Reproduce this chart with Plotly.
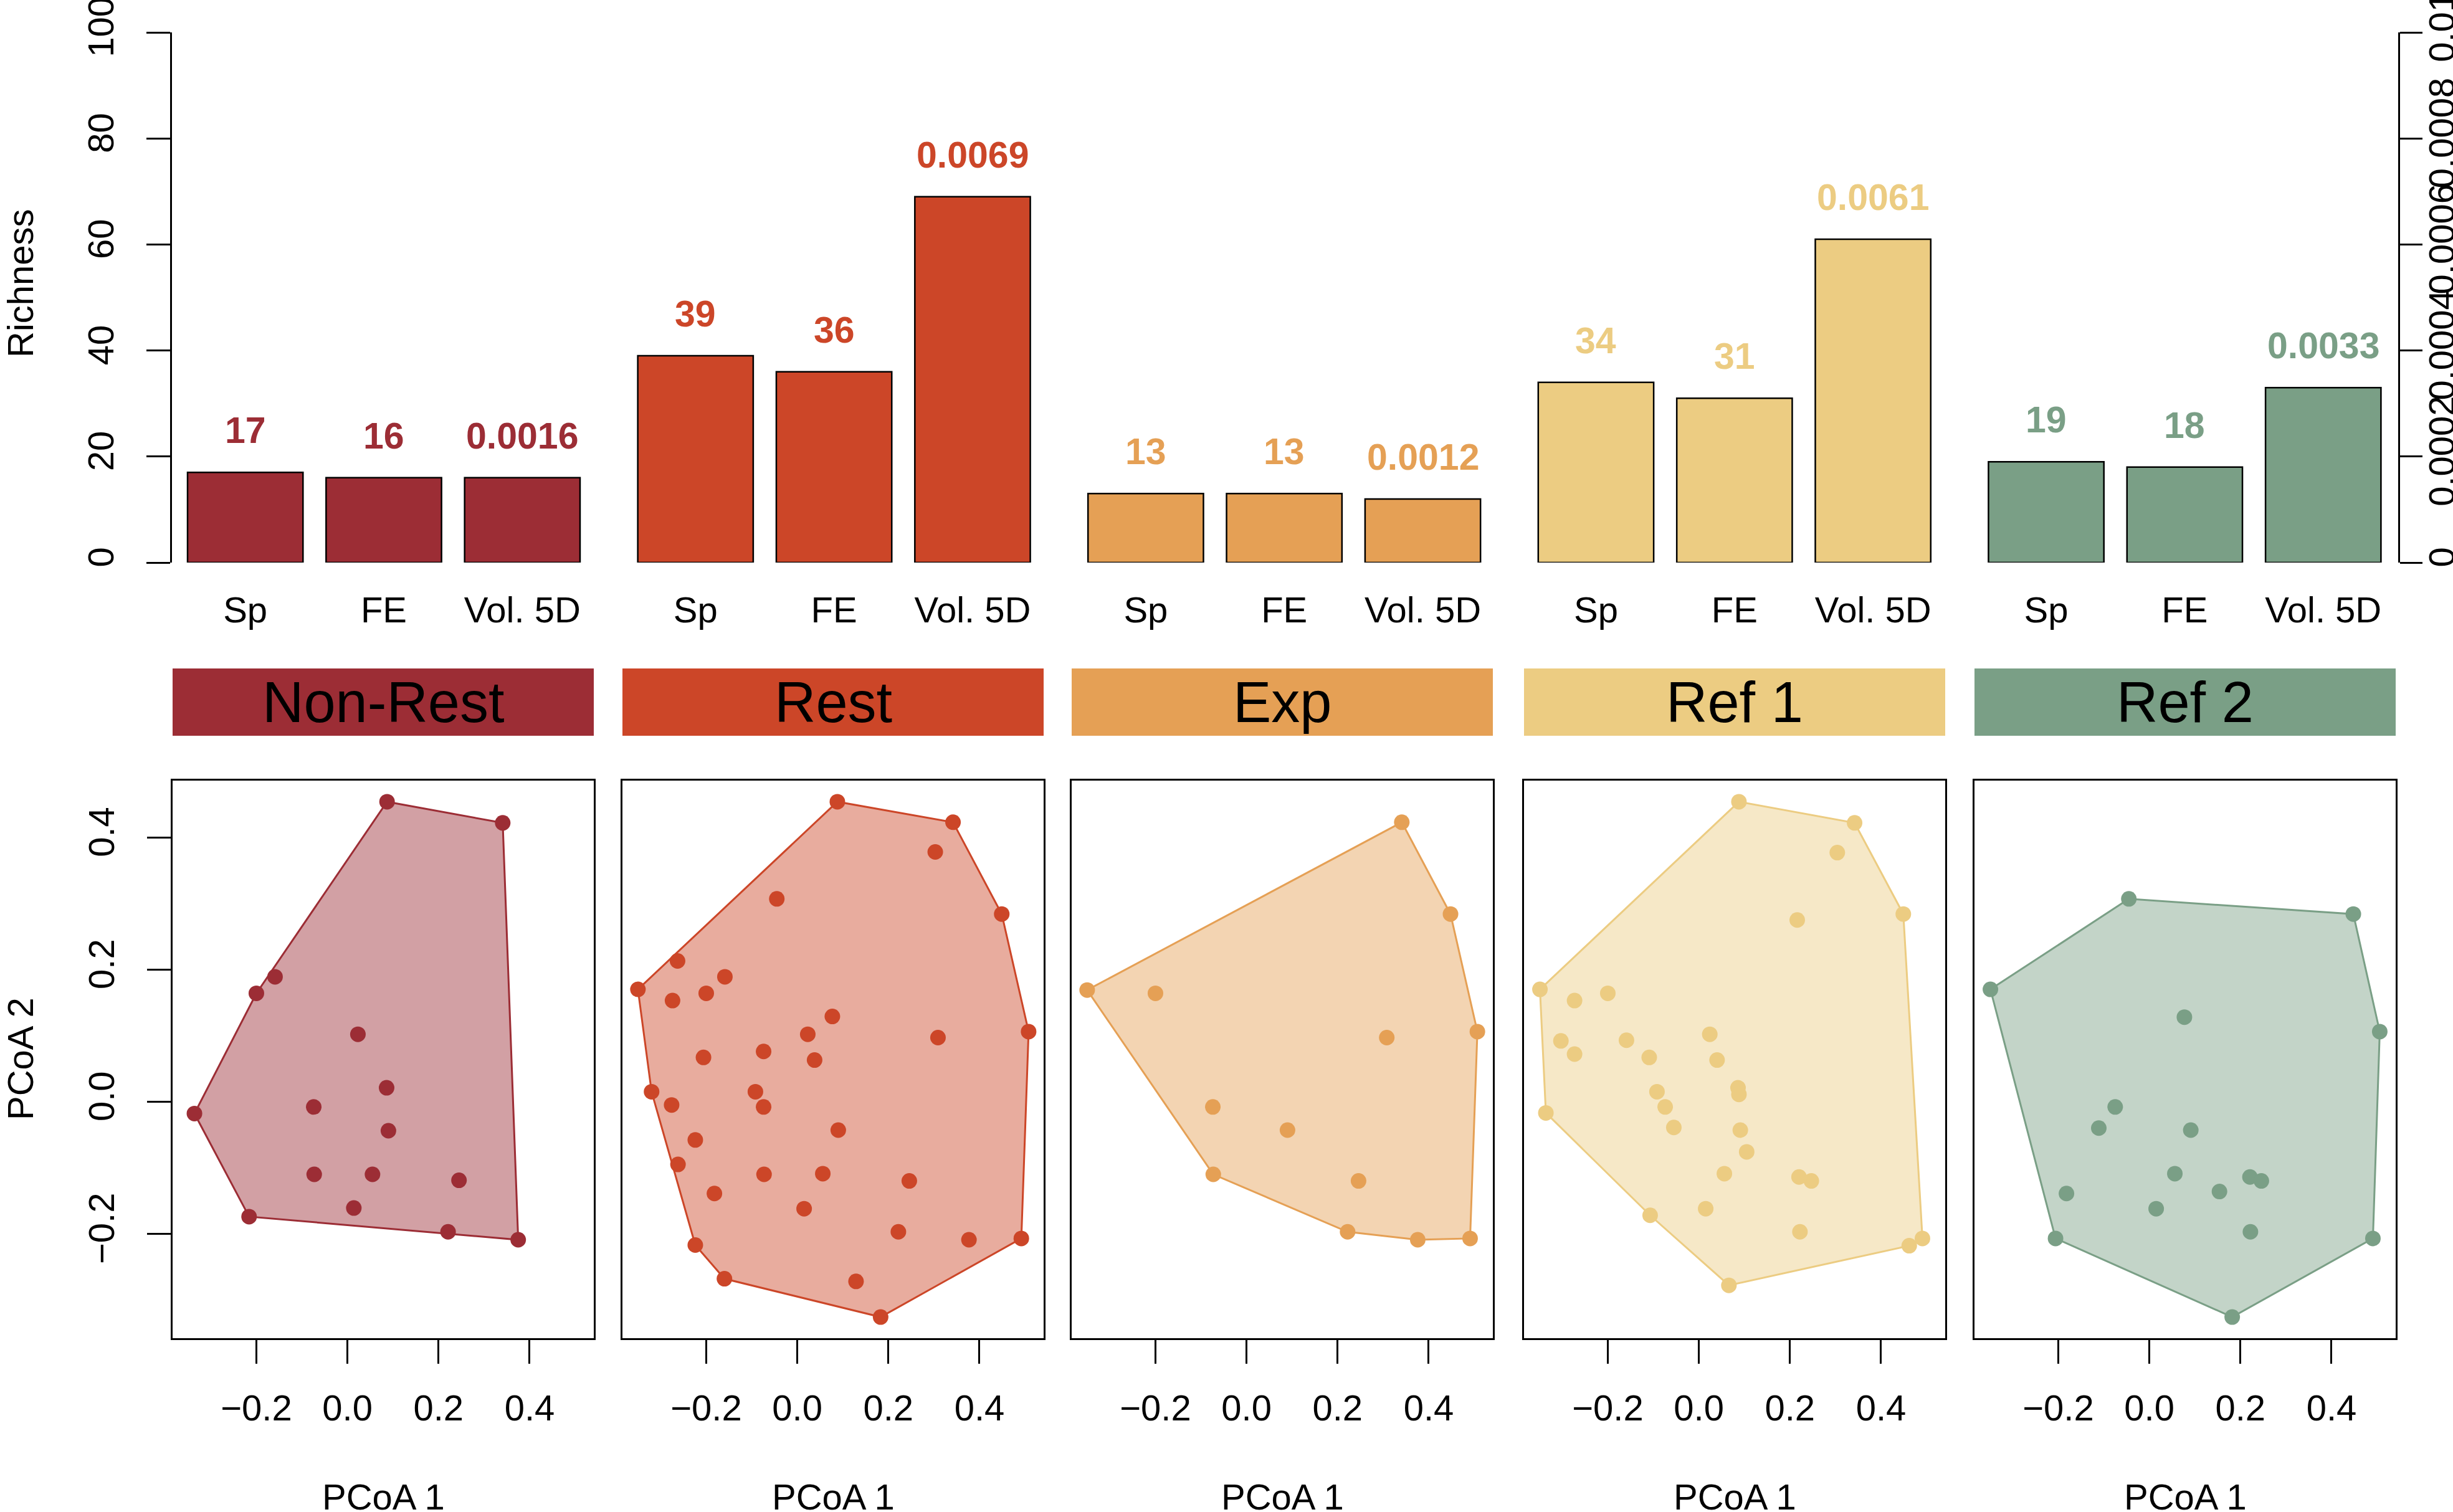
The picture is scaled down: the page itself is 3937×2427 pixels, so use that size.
import plotly.graph_objects as go

W, H = 3937, 2427

# --- bar part ---
groups = ["Non-Rest", "Rest", "Exp", "Ref 1", "Ref 2"]
metrics = ["Sp", "FE", "Vol. 5D"]
sp_richness = [17, 39, 13, 34, 19]
fe_richness = [16, 36, 13, 31, 18]
vol_5d = [0.0016, 0.0069, 0.0012, 0.0061, 0.0033]
group_colors = ["#9C2D35", "#CC4628", "#E5A055", "#ECCC82", "#7A9F86"]

richness_ticks = [0, 20, 40, 60, 80, 100]
vol_ticks = [0, 0.002, 0.004, 0.006, 0.008, 0.01]
vol_ticktext = ["0", "0.0002", "0.0004", "0.0006", "0.0008", "0.01"]
pcoa_ticks = [-0.2, 0.0, 0.2, 0.4]
pcoa_ticktext = ["\u22120.2", "0.0", "0.2", "0.4"]

# --- PCoA coordinates of the functional entities ---
nonrest_pc1 = [0.087, 0.341, -0.159, -0.200, 0.023, 0.086, -0.074, -0.336,
               0.090, -0.073, 0.055, 0.245, 0.014, -0.216, 0.221, 0.375]
nonrest_pc2 = [0.454, 0.422, 0.189, 0.164, 0.102, 0.021, -0.008, -0.018,
               -0.044, -0.110, -0.110, -0.119, -0.161, -0.174, -0.197, -0.209]

rest_pc1 = [0.088, 0.342, 0.303, -0.045, 0.449, -0.263, -0.159, -0.350, -0.200,
            -0.274, 0.077, 0.023, 0.508, 0.309, -0.074, -0.206, 0.038, -0.320,
            -0.092, -0.276, -0.074, 0.090, -0.224, -0.262, -0.073, 0.056, 0.246,
            -0.182, 0.015, 0.222, 0.377, 0.492, -0.224, -0.160, 0.129, 0.183]
rest_pc2 = [0.454, 0.423, 0.378, 0.307, 0.284, 0.213, 0.189, 0.170, 0.164,
            0.153, 0.129, 0.102, 0.106, 0.097, 0.076, 0.067, 0.063, 0.015,
            0.015, -0.005, -0.008, -0.043, -0.058, -0.095, -0.110, -0.109, -0.120,
            -0.139, -0.162, -0.197, -0.209, -0.207, -0.217, -0.268, -0.272, -0.326]

exp_pc1 = [0.341, 0.448, -0.350, -0.200, 0.308, 0.507, -0.074, 0.090,
           -0.073, 0.246, 0.222, 0.376, 0.491]
exp_pc2 = [0.423, 0.284, 0.169, 0.164, 0.097, 0.106, -0.008, -0.043,
           -0.110, -0.120, -0.197, -0.209, -0.207]

ref1_pc1 = [0.088, 0.342, 0.304, 0.216, 0.449, -0.349, -0.273, -0.200, -0.303,
            -0.273, -0.159, 0.024, -0.109, 0.040, 0.086, 0.088, -0.092, -0.074,
            -0.055, -0.336, 0.091, 0.105, 0.056, 0.220, 0.247, 0.015, -0.107,
            0.222, 0.462, 0.491, 0.066]
ref1_pc2 = [0.454, 0.422, 0.377, 0.275, 0.284, 0.170, 0.153, 0.164, 0.092,
            0.072, 0.093, 0.102, 0.067, 0.063, 0.021, 0.011, 0.015, -0.008,
            -0.039, -0.017, -0.043, -0.076, -0.109, -0.114, -0.120, -0.162, -0.172,
            -0.197, -0.218, -0.207, -0.278]

ref2_pc1 = [-0.045, 0.448, -0.349, 0.077, 0.506, -0.075, -0.111, 0.091, 0.056,
            0.221, 0.246, -0.182, 0.154, 0.015, 0.222, -0.206, 0.491, 0.182]
ref2_pc2 = [0.307, 0.284, 0.170, 0.128, 0.106, -0.008, -0.040, -0.043, -0.109,
            -0.114, -0.120, -0.139, -0.136, -0.162, -0.197, -0.207, -0.207, -0.326]

pcoa_sets = [(nonrest_pc1, nonrest_pc2), (rest_pc1, rest_pc2), (exp_pc1, exp_pc2),
             (ref1_pc1, ref1_pc2), (ref2_pc1, ref2_pc2)]

FONT = "Liberation Sans, Arial, Helvetica, sans-serif"


# page pixel -> paper fraction
def px(v):
    return v / W


def py(v):
    return 1 - v / H


def rgba(hexcol, a):
    h = hexcol.lstrip("#")
    r, g, b = int(h[0:2], 16), int(h[2:4], 16), int(h[4:6], 16)
    return f"rgba({r},{g},{b},{a})"


def convex_hull(xs, ys):
    pts = sorted(set(zip(xs, ys)))

    def cross(o, a, b):
        return (a[0] - o[0]) * (b[1] - o[1]) - (a[1] - o[1]) * (b[0] - o[0])

    lower, upper = [], []
    for p in pts:
        while len(lower) >= 2 and cross(lower[-2], lower[-1], p) <= 0:
            lower.pop()
        lower.append(p)
    for p in reversed(pts):
        while len(upper) >= 2 and cross(upper[-2], upper[-1], p) <= 0:
            upper.pop()
        upper.append(p)
    h = lower[:-1] + upper[:-1]
    h.append(h[0])
    return [p[0] for p in h], [p[1] for p in h]


# bar positions, barplot style: width 1, space 0.2 inside a group, 0.5 between groups
def bar_pos(g, m):
    k = g * 3 + m
    return k * 1.2 + g * 0.3


fig = go.Figure()

count_x, count_y, count_c = [], [], []
vol_x, vol_c = [], []
for g in range(len(groups)):
    count_x += [bar_pos(g, 0), bar_pos(g, 1)]
    count_y += [sp_richness[g], fe_richness[g]]
    count_c += [group_colors[g]] * 2
    vol_x.append(bar_pos(g, 2))
    vol_c.append(group_colors[g])

fig.add_trace(go.Bar(
    x=count_x, y=count_y, width=1,
    marker=dict(color=count_c, line=dict(color="black", width=2.5)),
    xaxis="x", yaxis="y", showlegend=False
))
fig.add_trace(go.Bar(
    x=vol_x, y=vol_5d, width=1,
    marker=dict(color=vol_c, line=dict(color="black", width=2.5)),
    xaxis="x", yaxis="y2", showlegend=False
))

annotations = []
for g in range(len(groups)):
    col = group_colors[g]
    for m, (val, ref, txt) in enumerate([
        (sp_richness[g], "y", str(sp_richness[g])),
        (fe_richness[g], "y", str(fe_richness[g])),
        (vol_5d[g], "y2", f"{vol_5d[g]:.4f}"),
    ]):
        annotations.append(dict(
            x=bar_pos(g, m), y=val, xref="x", yref=ref, text=txt,
            showarrow=False, xanchor="center", yanchor="middle", yshift=67,
            font=dict(family=FONT, size=59, color=col, weight="bold")
        ))

# scatter panels
panel_x = [(277, 953), (999, 1675), (1720, 2396), (2446, 3122), (3169, 3845)]
panel_top, panel_bottom = 1253, 2148
box_top, box_bottom = 1073, 1181

shapes = []
layout_axes = {}
for i, (xs, ys) in enumerate(pcoa_sets):
    xa = f"x{i + 2}"
    ya = f"y{i + 3}"
    col = group_colors[i]
    hx, hy = convex_hull(xs, ys)
    fig.add_trace(go.Scatter(
        x=hx, y=hy, mode="lines", fill="toself",
        fillcolor=rgba(col, 0.45), line=dict(color=col, width=3),
        xaxis=xa, yaxis=ya, showlegend=False, hoverinfo="skip"
    ))
    fig.add_trace(go.Scatter(
        x=xs, y=ys, mode="markers",
        marker=dict(color=col, size=25, line=dict(width=0)),
        xaxis=xa, yaxis=ya, showlegend=False
    ))

    x0, x1 = panel_x[i]
    layout_axes[f"xaxis{i + 2}"] = dict(
        domain=[px(x0), px(x1)], anchor=ya, range=[-0.384, 0.541],
        tickvals=pcoa_ticks, ticktext=pcoa_ticktext,
        ticks="outside", ticklen=38, tickwidth=2.5, tickcolor="black",
        showline=True, mirror=True, linewidth=2.5, linecolor="black",
        showgrid=False, zeroline=False, ticklabelstandoff=22,
        ticklabeloverflow="allow",
        tickfont=dict(family=FONT, size=58, color="black")
    )
    yax = dict(
        domain=[py(panel_bottom), py(panel_top)], anchor=xa, range=[-0.358, 0.486],
        showline=True, mirror=True, linewidth=2.5, linecolor="black",
        showgrid=False, zeroline=False
    )
    if i == 0:
        yax.update(tickvals=pcoa_ticks, ticktext=pcoa_ticktext, tickangle=-90,
                   ticks="outside", ticklen=38, tickwidth=2.5, tickcolor="black",
                   ticklabelstandoff=30, ticklabeloverflow="allow",
                   tickfont=dict(family=FONT, size=58, color="black"))
    else:
        yax.update(showticklabels=False, ticks="")
    layout_axes[f"yaxis{i + 3}"] = yax

    # group label box
    shapes.append(dict(
        type="rect", xref="paper", yref="paper",
        x0=px(x0), x1=px(x1), y0=py(box_bottom), y1=py(box_top),
        fillcolor=col, line=dict(width=0), layer="below"
    ))
    annotations.append(dict(
        x=px((x0 + x1) / 2), y=py((box_top + box_bottom) / 2),
        xref="paper", yref="paper", text=groups[i], showarrow=False,
        xanchor="center", yanchor="middle",
        font=dict(family=FONT, size=92, color="black")
    ))
    annotations.append(dict(
        x=px((x0 + x1) / 2), y=py(2402), xref="paper", yref="paper",
        text="PCoA 1", showarrow=False, xanchor="center", yanchor="middle",
        font=dict(family=FONT, size=58, color="black")
    ))

annotations.append(dict(
    x=px(32), y=py(455), xref="paper", yref="paper", text="Richness",
    textangle=-90, showarrow=False, xanchor="center", yanchor="middle",
    font=dict(family=FONT, size=58, color="black")
))
annotations.append(dict(
    x=px(32), y=py(1700), xref="paper", yref="paper", text="PCoA 2",
    textangle=-90, showarrow=False, xanchor="center", yanchor="middle",
    font=dict(family=FONT, size=58, color="black")
))

bar_tickvals = [bar_pos(g, m) for g in range(len(groups)) for m in range(3)]
bar_ticktext = metrics * len(groups)

fig.update_layout(
    template="none",
    width=W, height=H,
    margin=dict(l=0, r=0, t=0, b=0),
    paper_bgcolor="white", plot_bgcolor="rgba(0,0,0,0)",
    font=dict(family=FONT, color="black"),
    barmode="overlay",
    showlegend=False,
    xaxis=dict(
        domain=[px(276), px(3849)], anchor="y", range=[-0.635, 18.649],
        tickvals=bar_tickvals, ticktext=bar_ticktext, ticks="",
        showline=False, showgrid=False, zeroline=False, ticklabelstandoff=37,
        ticklabeloverflow="allow",
        tickfont=dict(family=FONT, size=58, color="black")
    ),
    yaxis=dict(
        domain=[py(903), py(52)], anchor="x", range=[0, 100],
        tickvals=richness_ticks, tickangle=-90,
        ticks="outside", ticklen=38, tickwidth=2.5, tickcolor="black",
        showline=True, linewidth=2.5, linecolor="black",
        showgrid=False, zeroline=False, ticklabelstandoff=30,
        ticklabeloverflow="allow",
        tickfont=dict(family=FONT, size=58, color="black")
    ),
    yaxis2=dict(
        overlaying="y", side="right", anchor="x", range=[0, 0.01],
        tickvals=vol_ticks, ticktext=vol_ticktext, tickangle=-90,
        ticks="outside", ticklen=36, tickwidth=2.5, tickcolor="black",
        showline=True, linewidth=2.5, linecolor="black",
        showgrid=False, zeroline=False, ticklabelstandoff=-18,
        ticklabeloverflow="allow",
        tickfont=dict(family=FONT, size=58, color="black")
    ),
    shapes=shapes,
    annotations=annotations,
    **layout_axes
)

# drop the page's default body margin so the figure sits at the window corner
fig.write_html("out.html", config={"displayModeBar": False},
               post_script="document.body.style.margin = '0';")
